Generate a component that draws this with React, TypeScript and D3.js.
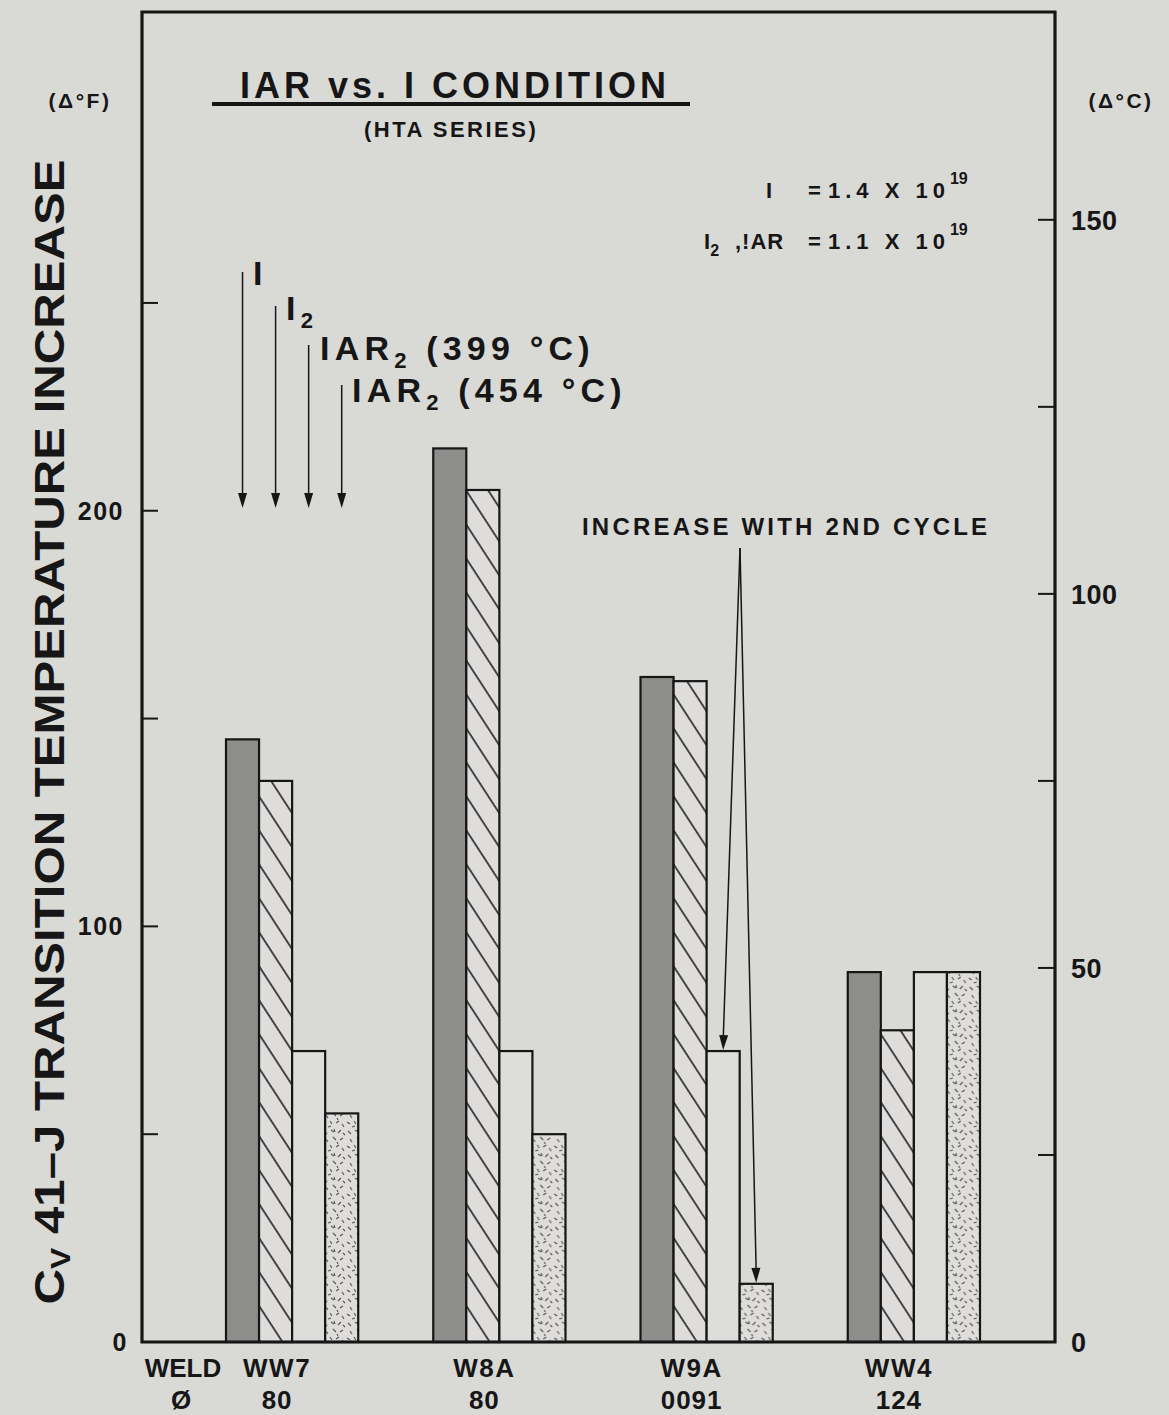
import * as d3 from "d3";

const categories = ["WW7", "W8A", "W9A", "WW4"];
const weldNumbers = ["80", "80", "0091", "124"];
const seriesKeys = ["I", "I2", "IAR399", "IAR454"];
// values read in delta deg F
const iValues = [145, 215, 160, 89];
const i2Values = [135, 205, 159, 75];
const iar399Values = [70, 70, 70, 89];
const iar454Values = [55, 50, 14, 89];
const leftMajor = [0, 100, 200];
const leftMinor = [50, 150, 250];
const rightMajor = [0, 50, 100, 150];
const rightMinor = [25, 75, 125];

const W = 1169;
const H = 1415;
const bg = "#d9d9d6";
const ink = "#161616";
const font = "'Liberation Sans', Arial, Helvetica, sans-serif";

const plot = { left: 142, right: 1055, top: 12, bottom: 1342 };

const x = d3
  .scaleBand<string>()
  .domain(categories)
  .range([226, 980])
  .paddingInner(0.362)
  .paddingOuter(0);
const xs = d3.scaleBand<string>().domain(seriesKeys).range([0, x.bandwidth()]);
const y = d3.scaleLinear().domain([0, 320]).range([plot.bottom, plot.top]);
const yC = d3.scaleLinear().domain([0, 320 / 1.8]).range([plot.bottom, plot.top]);

const seriesValues: Record<string, number[]> = {
  I: iValues,
  I2: i2Values,
  IAR399: iar399Values,
  IAR454: iar454Values,
};
const fills: Record<string, string> = {
  I: "#8d8d8b",
  I2: "url(#hatch)",
  IAR399: "#dddddb",
  IAR454: "url(#speckle)",
};

// short random-looking dashes for the stippled fill (style only)
const speckleMarks = [
  [2, 3, 5, 6], [9, 2, 12, 4], [16, 5, 19, 2], [4, 11, 6, 14], [11, 9, 14, 12],
  [18, 12, 21, 10], [1, 18, 4, 20], [8, 17, 10, 20], [14, 19, 17, 17], [20, 20, 22, 23],
  [6, 23, 9, 22], [12, 1, 13, 4], [21, 5, 23, 7], [15, 14, 16, 16],
];

function arrowHead(px: number, py: number, dx: number, dy: number) {
  const len = Math.hypot(dx, dy);
  const ux = dx / len;
  const uy = dy / len;
  const L = 15;
  const w = 4.5;
  const bx = px - ux * L;
  const by = py - uy * L;
  return `M${px},${py}L${bx - uy * w},${by + ux * w}L${bx + uy * w},${by - ux * w}Z`;
}

export default function App() {
  const col0 = x("WW7")!;
  const arrowLabels = [
    { key: "I", top: 272, text: "I", sub: "", tx: 253, ty: 285 },
    { key: "I2", top: 306, text: "I", sub: "2", tx: 286, ty: 320 },
    { key: "IAR399", top: 345, text: "IAR", sub: "2", rest: " (399 °C)", tx: 320, ty: 360 },
    { key: "IAR454", top: 385, text: "IAR", sub: "2", rest: " (454 °C)", tx: 352, ty: 402 },
  ];
  const arrowTip = 508;
  const incOrigin = { x: 740, y: 548 };
  const incTargets = [
    { x: x("W9A")! + xs("IAR399")! + xs.bandwidth() / 2, y: y(iar399Values[2]) },
    { x: x("W9A")! + xs("IAR454")! + xs.bandwidth() / 2, y: y(iar454Values[2]) },
  ];

  return (
    <div>
      <style>{`body{margin:0;background:${bg}}`}</style>
      <svg width={W} height={H} style={{ display: "block" }} fontFamily={font} fontWeight="bold">
        <defs>
          <pattern id="hatch" patternUnits="userSpaceOnUse" width={18.5} height={20} patternTransform="rotate(-33)">
            <rect width={18.5} height={20} fill="#dedddb" />
            <line x1={1} y1={0} x2={1} y2={20} stroke="#222" strokeWidth={1.6} />
          </pattern>
          <pattern id="speckle" patternUnits="userSpaceOnUse" width={24} height={24}>
            <rect width={24} height={24} fill="#dedddb" />
            {speckleMarks.map((m, i) => (
              <line key={i} x1={m[0]} y1={m[1]} x2={m[2]} y2={m[3]} stroke="#555" strokeWidth={1.1} />
            ))}
          </pattern>
        </defs>
        <rect width={W} height={H} fill={bg} />

        {/* bars */}
        {categories.map((c, ci) => (
          <g key={c} transform={`translate(${x(c)},0)`}>
            {seriesKeys.map((k) => {
              const v = seriesValues[k][ci];
              return (
                <rect
                  key={k}
                  x={xs(k)}
                  y={y(v)}
                  width={xs.bandwidth()}
                  height={y(0) - y(v)}
                  fill={fills[k]}
                  stroke={ink}
                  strokeWidth={2.2}
                />
              );
            })}
          </g>
        ))}

        {/* frame */}
        <path
          d={`M${plot.left},${plot.bottom}V${plot.top}H${plot.right}V${plot.bottom}Z`}
          fill="none"
          stroke={ink}
          strokeWidth={3.2}
        />

        {/* left axis */}
        {leftMajor.concat(leftMinor).map((t) => (
          <line key={"l" + t} x1={plot.left} x2={plot.left + 16} y1={y(t)} y2={y(t)} stroke={ink} strokeWidth={2} />
        ))}
        {leftMajor.map((t) => (
          <text key={"lt" + t} x={t === 0 ? 128 : 124} y={y(t) + 9} textAnchor="end" fontSize={25} fill={ink} letterSpacing={1.5}>
            {t}
          </text>
        ))}
        <text x={80} y={108} textAnchor="middle" fontSize={21} fill={ink} letterSpacing={2.5}>(Δ°F)</text>

        {/* right axis */}
        {rightMajor.concat(rightMinor).map((t) => (
          <line key={"r" + t} x1={plot.right - 17} x2={plot.right} y1={yC(t)} y2={yC(t)} stroke={ink} strokeWidth={2} />
        ))}
        {rightMajor.map((t) => (
          <text key={"rt" + t} x={1071} y={yC(t) + 10} textAnchor="start" fontSize={27} fill={ink} letterSpacing={0.5}>
            {t}
          </text>
        ))}
        <text x={1121} y={108} textAnchor="middle" fontSize={21} fill={ink} letterSpacing={2.5}>(Δ°C)</text>

        {/* y axis title */}
        <text
          transform={`translate(64,732) rotate(-90)`}
          textAnchor="middle"
          fontSize={43}
          fill={ink}
          textLength={1145}
          lengthAdjust="spacingAndGlyphs"
        >
          C<tspan fontSize={28} dy={6}>V</tspan>
          <tspan dy={-6}> 41–J TRANSITION TEMPERATURE INCREASE</tspan>
        </text>

        {/* x labels */}
        <text x={183} y={1377} textAnchor="middle" fontSize={26} fill={ink}>WELD</text>
        <text x={181} y={1409} textAnchor="middle" fontSize={26} fill={ink}>Ø</text>
        {categories.map((c, i) => {
          const cx = x(c)! + x.bandwidth() / 2 - 15;
          return (
            <g key={"xl" + c}>
              <text x={cx} y={1377} textAnchor="middle" fontSize={26} fill={ink} letterSpacing={1.5}>{c}</text>
              <text x={cx} y={1409} textAnchor="middle" fontSize={26} fill={ink} letterSpacing={1}>{weldNumbers[i]}</text>
            </g>
          );
        })}

        {/* title */}
        <text x={240} y={98} fontSize={36} fill={ink} letterSpacing={4}>IAR vs. I CONDITION</text>
        <line x1={212} x2={690} y1={104} y2={104} stroke={ink} strokeWidth={4} />
        <text x={364} y={137} fontSize={22} fill={ink} letterSpacing={2.5}>(HTA SERIES)</text>

        {/* fluence note */}
        <text y={198} fontSize={22} fill={ink}>
          <tspan x={766}>I</tspan>
          <tspan x={808}>=</tspan>
          <tspan x={828} letterSpacing={5}>1.4 X 10</tspan>
          <tspan fontSize={16} dy={-14}>19</tspan>
        </text>
        <text y={249} fontSize={22} fill={ink}>
          <tspan x={704}>I</tspan>
          <tspan fontSize={16} dy={7}>2</tspan>
          <tspan dy={-7} x={735} letterSpacing={1}>,!AR</tspan>
          <tspan x={808}>=</tspan>
          <tspan x={828} letterSpacing={5}>1.1 X 10</tspan>
          <tspan fontSize={16} dy={-14}>19</tspan>
        </text>

        {/* series arrows */}
        {arrowLabels.map((a) => {
          const ax = col0 + xs(a.key)! + xs.bandwidth() / 2;
          return (
            <g key={"a" + a.key}>
              <line x1={ax} x2={ax} y1={a.top} y2={arrowTip - 10} stroke={ink} strokeWidth={1.5} />
              <path d={arrowHead(ax, arrowTip, 0, 1)} fill={ink} />
              <text x={a.tx} y={a.ty} fontSize={34} fill={ink} letterSpacing={5.2}>
                {a.text}
                {a.sub && (
                  <tspan fontSize={22} dy={8}>
                    {a.sub}
                  </tspan>
                )}
                {a.rest && <tspan dy={-8}>{a.rest}</tspan>}
              </text>
            </g>
          );
        })}

        {/* second cycle annotation */}
        <text x={582} y={535} fontSize={24} fill={ink} letterSpacing={3.2}>INCREASE WITH 2ND CYCLE</text>
        {incTargets.map((t, i) => (
          <g key={"inc" + i}>
            <line x1={incOrigin.x} y1={incOrigin.y} x2={t.x} y2={t.y - 10} stroke={ink} strokeWidth={1.5} />
            <path d={arrowHead(t.x, t.y - 1, t.x - incOrigin.x, t.y - incOrigin.y)} fill={ink} />
          </g>
        ))}
      </svg>
    </div>
  );
}
